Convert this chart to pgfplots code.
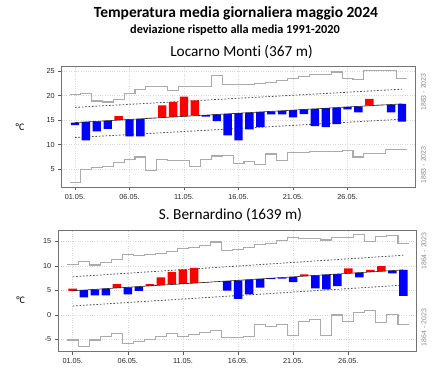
\documentclass[border=0pt]{standalone}
\usepackage{pgfplots}
\pgfplotsset{compat=1.18}
\usepackage{pgfplotstable}
\usepackage{fontspec}
\setmainfont{Carlito}[Ligatures={NoCommon}]
\setsansfont{Liberation Sans}
\newfontfamily\tickfont{Liberation Sans}

\definecolor{envgray}{HTML}{ABABAB}
\definecolor{dotgray}{HTML}{4D4D4D}

% Locarno Monti: day, climatological mean, daily mean 2024
\pgfplotstableread{
d mean t
1 14.50 14.0
2 14.63 10.9
3 14.75 12.7
4 14.88 13.2
5 15.01 15.8
6 15.14 11.7
7 15.26 11.7
8 15.39 15.45
9 15.52 18.0
10 15.64 18.7
11 15.77 19.8
12 15.90 19.0
13 16.02 15.7
14 16.15 14.8
15 16.28 11.9
16 16.41 10.9
17 16.53 13.1
18 16.66 13.6
19 16.79 16.15
20 16.91 16.15
21 17.04 15.55
22 17.17 16.2
23 17.29 13.8
24 17.42 13.6
25 17.55 14.2
26 17.68 17.2
27 17.80 16.6
28 17.93 19.35
29 18.06 18.1
30 18.18 16.6
31 18.31 14.7
}\locT

\pgfplotstableread{
x hi lo
0.5 20.2 2.3
1.5 20.4 4.9
2.5 18.9 5.3
3.5 18.7 5.6
4.5 19.2 6.3
5.5 20.4 7.0
6.5 21.3 7.5
7.5 21.8 4.8
8.5 21.8 7.0
9.5 21.1 6.8
10.5 21.8 6.8
11.5 21.8 5.6
12.5 21.8 7.0
13.5 24.1 7.7
14.5 22.3 7.8
15.5 22.3 6.2
16.5 22.2 6.5
17.5 22.4 5.9
18.5 22.6 8.1
19.5 23.0 6.8
20.5 23.4 8.5
21.5 23.8 8.5
22.5 24.2 8.6
23.5 24.3 8.6
24.5 24.8 8.6
25.5 23.4 8.9
26.5 23.3 7.5
27.5 25.1 8.3
28.5 25.1 8.3
29.5 25.1 9.1
30.5 23.5 9.1
31.5 23.5 9.1
}\locE

\pgfplotstableread{
d up lo
1 17.6 11.45
16 19.45 13.3
31 21.3 15.2
}\locD

% S. Bernardino
\pgfplotstableread{
d mean t
1 4.95 5.4
2 5.09 3.6
3 5.23 4.0
4 5.38 4.0
5 5.52 6.3
6 5.66 4.2
7 5.80 4.9
8 5.94 6.3
9 6.09 7.7
10 6.23 8.8
11 6.37 9.3
12 6.51 9.6
13 6.65 6.7
14 6.80 6.8
15 6.94 5.0
16 7.08 3.3
17 7.22 4.2
18 7.36 5.6
19 7.51 7.3
20 7.65 7.4
21 7.79 6.7
22 7.93 8.3
23 8.07 5.45
24 8.22 5.25
25 8.36 5.9
26 8.50 9.5
27 8.64 7.7
28 8.78 9.2
29 8.93 10.0
30 9.07 8.5
31 9.21 3.9
}\sbT

\pgfplotstableread{
x hi lo
0.5 10.3 -5.1
1.5 10.9 -6.5
2.5 10.2 -5.1
3.5 10.7 -4.4
4.5 11.4 -3.7
5.5 12.4 -5.8
6.5 12.2 -5.4
7.5 12.3 -5.0
8.5 12.6 -4.3
9.5 13.0 -3.7
10.5 13.5 -4.3
11.5 13.8 -4.0
12.5 14.1 -3.6
13.5 14.9 -3.2
14.5 13.2 -4.6
15.5 13.4 -4.6
16.5 13.7 -4.4
17.5 14.3 -2.0
18.5 14.6 -2.3
19.5 15.2 -2.0
20.5 15.8 -4.1
21.5 15.7 -1.4
22.5 15.7 -0.9
23.5 15.3 -4.1
24.5 15.9 0.0
25.5 15.9 -1.4
26.5 16.5 0.5
27.5 15.0 1.0
28.5 16.0 -1.5
29.5 16.3 0.1
30.5 14.6 -2.0
31.5 14.6 -2.0
}\sbE

\pgfplotstableread{
d up lo
1 7.8 1.84
16 10.0 3.97
31 12.2 6.1
}\sbD

\pgfplotsset{
  basepanel/.style={
    scale only axis, anchor=south west,
    xtick={1,6,11,16,21,26},
    xticklabels={01.05.,06.05.,11.05.,16.05.,21.05.,26.05.},
    tick align=outside, xtick pos=bottom, ytick pos=left,
    major tick length=3.5pt,
    tick style={black!65, line width=0.6pt},
    axis line style={black!55, line width=0.8pt},
    grid=major,
    major grid style={black!15, dotted, line width=0.5pt},
    tick label style={font=\tickfont\fontsize{7.3}{8}\selectfont, text=black!85},
    /pgf/number format/assume math mode=true,
  },
  overpanel/.style={scale only axis, anchor=south west, hide axis},
  topgeom/.style={at={(61.7pt,191pt)}, width=353.3pt, height=121pt,
    xmin=-0.22, xmax=32.19, ymin=1.39, ymax=26.02, ytick={5,10,15,20,25}},
  botgeom/.style={at={(58.3pt,26.3pt)}, width=358.4pt, height=121.7pt,
    xmin=-0.31, xmax=32.2, ymin=-7.49, ymax=17.35, ytick={-5,0,5,10,15}},
  envline/.style={envgray, line width=1.1pt, const plot mark left},
  dotline/.style={dotgray, line width=0.8pt, dash pattern=on 1.6pt off 1.8pt},
}

\begin{document}
\begin{tikzpicture}
\useasboundingbox (0,0) rectangle (440pt,378pt);

% ---------- Locarno Monti ----------
\begin{axis}[basepanel, topgeom]
\addplot[envline] table[x=x, y=hi] \locE;
\addplot[envline] table[x=x, y=lo] \locE;
\addplot[dotline] table[x=d, y=up] \locD;
\addplot[dotline] table[x=d, y=lo] \locD;
\end{axis}
\begin{axis}[overpanel, topgeom, ybar stacked, bar width=0.77]
\addplot[draw=none, fill=none] table[x=d, y expr={min(\thisrow{mean},\thisrow{t})}] \locT;
\addplot[draw=none, fill=blue] table[x=d, y expr={max(\thisrow{mean}-\thisrow{t},0)}] \locT;
\addplot[draw=none, fill=red] table[x=d, y expr={max(\thisrow{t}-\thisrow{mean},0)}] \locT;
\end{axis}
\begin{axis}[overpanel, topgeom]
\addplot[black!85, line width=0.6pt] table[x=d, y=mean] \locT;
\end{axis}

% ---------- S. Bernardino ----------
\begin{axis}[basepanel, botgeom]
\addplot[envline] table[x=x, y=hi] \sbE;
\addplot[envline] table[x=x, y=lo] \sbE;
\addplot[dotline] table[x=d, y=up] \sbD;
\addplot[dotline] table[x=d, y=lo] \sbD;
\end{axis}
\begin{axis}[overpanel, botgeom, ybar stacked, bar width=0.77]
\addplot[draw=none, fill=none] table[x=d, y expr={min(\thisrow{mean},\thisrow{t})}] \sbT;
\addplot[draw=none, fill=blue] table[x=d, y expr={max(\thisrow{mean}-\thisrow{t},0)}] \sbT;
\addplot[draw=none, fill=red] table[x=d, y expr={max(\thisrow{t}-\thisrow{mean},0)}] \sbT;
\end{axis}
\begin{axis}[overpanel, botgeom]
\addplot[black!85, line width=0.6pt] table[x=d, y=mean] \sbT;
\end{axis}

% ---------- texts ----------
\node[font=\bfseries\fontsize{15.5}{17}\selectfont] at (236pt,364.7pt) {Temperatura media giornaliera maggio 2024};
\node[font=\bfseries\fontsize{12.3}{14}\selectfont] at (235pt,348.3pt) {deviazione rispetto alla media 1991-2020};
\node[font=\fontsize{15.3}{17}\selectfont] at (241.5pt,325.7pt) {Locarno Monti (367 m)};
\node[font=\fontsize{15.3}{17}\selectfont] at (230.5pt,163pt) {S. Bernardino (1639 m)};
\node[font=\fontsize{10}{12}\selectfont] at (20pt,251.3pt) {°C};
\node[font=\fontsize{10}{12}\selectfont] at (20.7pt,78pt) {°C};
\node[rotate=90, font=\tickfont\fontsize{7}{8}\selectfont, text=black!45] at (423.5pt,286pt) {1883 - 2023};
\node[rotate=90, font=\tickfont\fontsize{7}{8}\selectfont, text=black!45] at (423.5pt,213pt) {1883 - 2023};
\node[rotate=90, font=\tickfont\fontsize{7}{8}\selectfont, text=black!45] at (424pt,127pt) {1864 - 2023};
\node[rotate=90, font=\tickfont\fontsize{7}{8}\selectfont, text=black!45] at (424pt,50.5pt) {1864 - 2023};
\end{tikzpicture}
\end{document}
